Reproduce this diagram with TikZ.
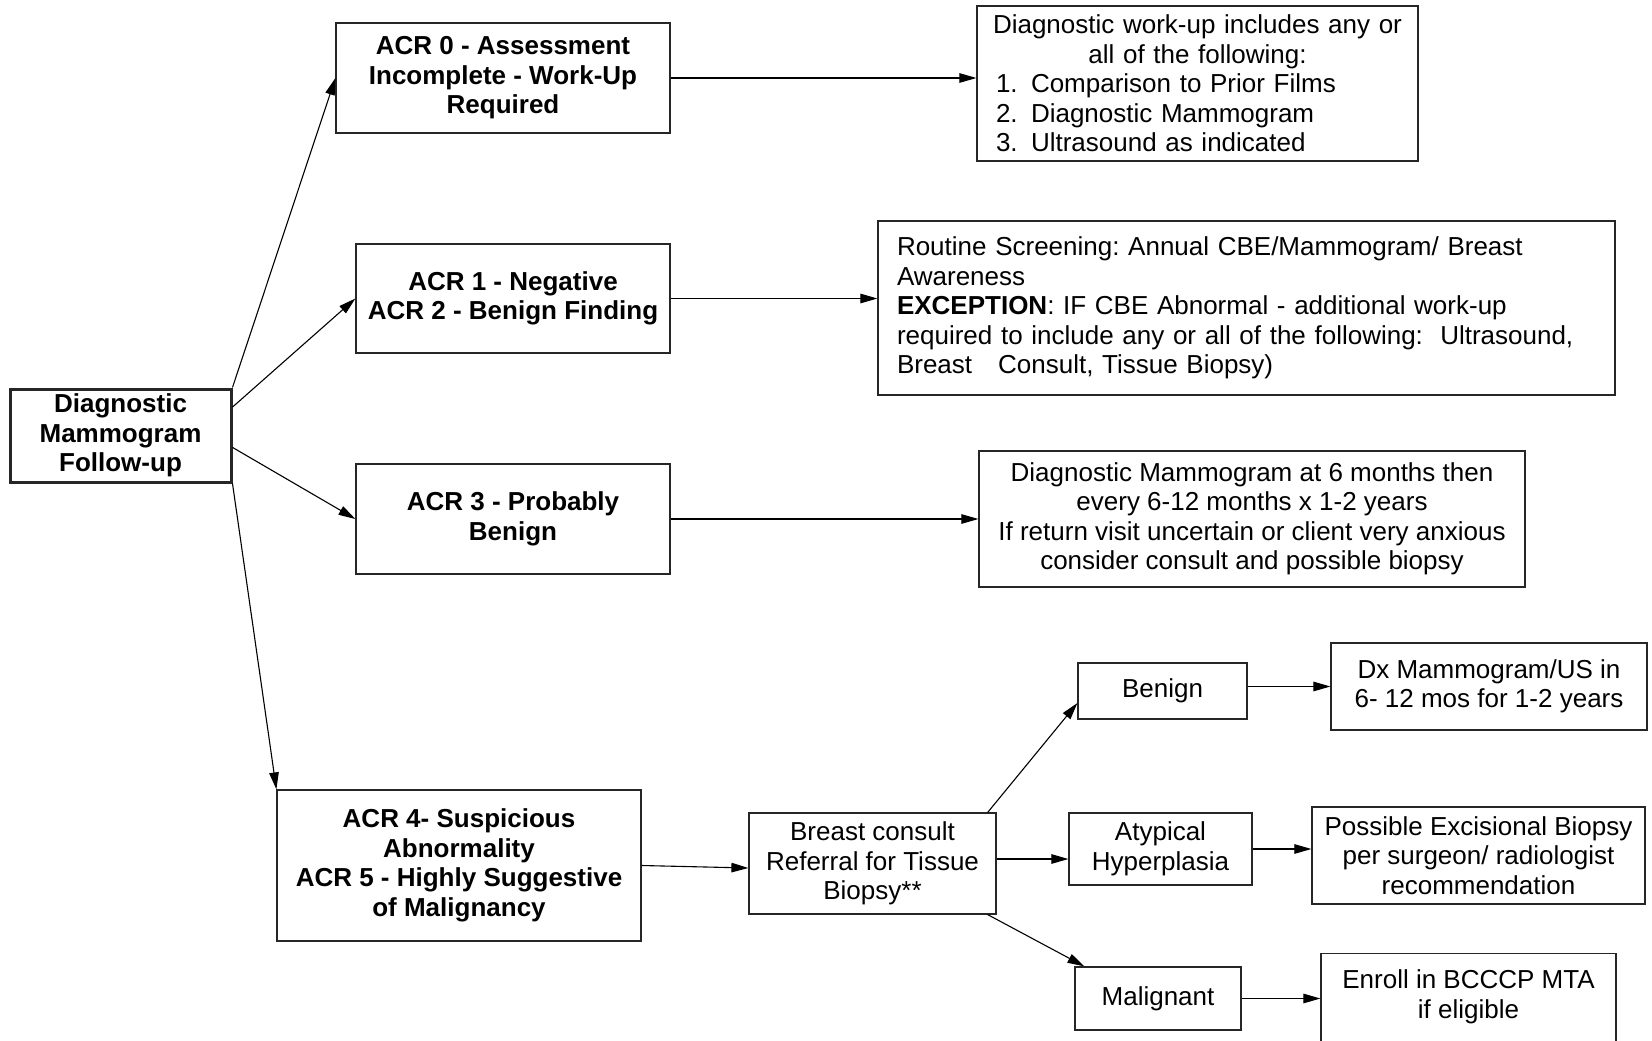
\documentclass[tikz,border=0pt]{standalone}
\usepackage{fontspec}
\setmainfont{Liberation Sans}
\usetikzlibrary{arrows.meta,calc}
\frenchspacing
\newcommand{\flowfont}{\fontsize{26}{29.5}\selectfont}
\newcommand{\itemno}[1]{\hspace*{3pt}\makebox[35pt][l]{#1}}
\begin{document}
\begin{tikzpicture}[x=1pt,y=-1pt,
  box/.style={draw=black!85, line width=1.2pt, inner sep=0pt, align=center, font=\flowfont},
  hdr/.style={box, font=\flowfont\bfseries},
  link/.style={draw=black, line width=1.1pt, -{Triangle[length=17pt,width=9.5pt]}}]
\useasboundingbox[fill=white] (0,0) rectangle (1652,1041);

% root
\node[hdr, line width=3pt, minimum width=221pt, minimum height=93pt] (diag) at (120.5,435.5)
  {Diagnostic\\Mammogram\\Follow-up};

% assessment categories
\node[hdr, minimum width=334pt, minimum height=110pt] (acr0) at (503,78)
  {ACR 0 - Assessment\\Incomplete - Work-Up\\Required};
\node[hdr, minimum width=314pt, minimum height=109pt] (acr1) at (513,298.5)
  {ACR 1 - Negative\\ACR 2 - Benign Finding};
\node[hdr, minimum width=314pt, minimum height=110pt] (acr3) at (513,519)
  {ACR 3 - Probably\\Benign};
\node[hdr, minimum width=364pt, minimum height=151pt] (acr45) at (459,865.5)
  {ACR 4- Suspicious\\Abnormality\\ACR 5 - Highly Suggestive\\of Malignancy};

% follow-up actions
\node[box, minimum width=441pt, minimum height=155pt, text width=409pt, align=left] (work) at (1197.5,83.5)
  {\makebox[\linewidth]{Diagnostic work-up includes any or}\\
   \makebox[\linewidth]{all of the following:}\\
   \itemno{1.}Comparison to Prior Films\\
   \itemno{2.}Diagnostic Mammogram\\
   \itemno{3.}Ultrasound as indicated};
\node[box, minimum width=737pt, minimum height=174pt, text width=699pt, align=left] (routine) at (1246.5,308)
  {Routine Screening: Annual CBE/Mammogram/ Breast\\
   Awareness\\
   \textbf{EXCEPTION}: IF CBE Abnormal - additional work-up\\
   required to include any or all of the following:\ \ Ultrasound,\\
   Breast\ \ \ Consult, Tissue Biopsy)};
\node[box, minimum width=546pt, minimum height=136pt] (fu3) at (1252,519)
  {Diagnostic Mammogram at 6 months then\\every 6-12 months x 1-2 years\\
   If return visit uncertain or client very anxious\\consider consult and possible biopsy};

% biopsy pathway
\node[box, minimum width=247pt, minimum height=101pt] (consult) at (872.5,863.5)
  {Breast consult\\Referral for Tissue\\Biopsy**};
\node[box, minimum width=169pt, minimum height=56pt] (benign) at (1162.5,691) {Benign};
\node[box, minimum width=183pt, minimum height=72pt] (atyp) at (1160.5,849) {Atypical\\Hyperplasia};
\node[box, minimum width=166pt, minimum height=63pt] (malig) at (1158,998.5) {Malignant};
\node[box, minimum width=316pt, minimum height=87pt] (dx) at (1489,686.5)
  {Dx Mammogram/US in\\6- 12 mos for 1-2 years};
\node[box, minimum width=333pt, minimum height=97pt] (excis) at (1478.5,855.5)
  {Possible Excisional Biopsy\\per surgeon/ radiologist\\recommendation};
\node[box, minimum width=295pt, minimum height=110pt, anchor=north] (enroll) at (1468.5,953) {};
\node[font=\flowfont, align=center, inner sep=0pt] (enrolltext) at (1468.5,997)
  {Enroll in BCCCP MTA\\if eligible};

% connectors from the root
\draw[link] (diag.north east) -- (acr0.west);
\draw[link] ($(diag.north east)!0.204!(diag.south east)$) -- (acr1.west);
\draw[link] ($(diag.north east)!0.624!(diag.south east)$) -- (acr3.west);
\draw[link] (diag.south east) -- (acr45.north west);

% category to action
\draw[link] (acr0.east) -- (acr0.east -| work.west);
\draw[link] (acr1.east) -- (acr1.east -| routine.west);
\draw[link] (acr3.east) -- (acr3.east -| fu3.west);
\draw[link] (acr45.east) -- ($(consult.west)+(0,4.5)$);

% biopsy results
\draw[link] ($(consult.north west)!0.964!(consult.north east)$) -- ($(benign.north west)!0.71!(benign.south west)$);
\draw[link] ([yshift=4.5pt]consult.east) -- ([yshift=4.5pt]consult.east -| atyp.west);
\draw[link] ($(consult.south west)!0.964!(consult.south east)$) -- ($(malig.north west)!0.06!(malig.north east)$);
\draw[link] (dx.west -| benign.east) -- (dx.west);
\draw[link] (atyp.east) -- (atyp.east -| excis.west);
\draw[link] (malig.east) -- (malig.east -| enroll.west);
\end{tikzpicture}
\end{document}
